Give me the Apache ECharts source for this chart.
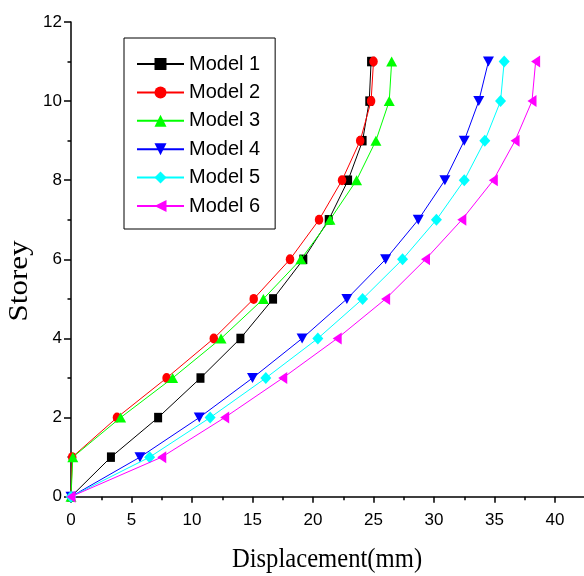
<!DOCTYPE html>
<html><head><meta charset="utf-8">
<script src="https://cdn.jsdelivr.net/npm/echarts@6/dist/echarts.min.js"></script>
<style>html,body{margin:0;padding:0;background:#fff}#c{width:584px;height:576px}</style>
</head><body><div id="c"></div>
<script>
const storeys = [0,1,2,3,4,5,6,7,8,9,10,11];
const names = ['Model 1','Model 2','Model 3','Model 4','Model 5','Model 6'];
const model1 = [0, 3.3, 7.2, 10.7, 14.0, 16.7, 19.2, 21.3, 22.9, 24.1, 24.65, 24.8];
const model2 = [0, 0.1, 3.8, 7.9, 11.8, 15.1, 18.1, 20.5, 22.4, 23.9, 24.8, 25.0];
const model3 = [0, 0.15, 4.1, 8.4, 12.4, 15.9, 19.0, 21.4, 23.6, 25.2, 26.3, 26.5];
const model4 = [0, 5.7, 10.6, 15.0, 19.1, 22.8, 26.0, 28.7, 30.9, 32.5, 33.7, 34.5];
const model5 = [0, 6.5, 11.5, 16.1, 20.4, 24.1, 27.4, 30.2, 32.5, 34.2, 35.5, 35.8];
const model6 = [0, 7.5, 12.7, 17.5, 22.0, 26.0, 29.3, 32.3, 34.9, 36.7, 38.1, 38.4];
const xTicks = [0,5,10,15,20,25,30,35,40];
const yTicks = [0,2,4,6,8,10,12];

const values = [model1, model2, model3, model4, model5, model6];
const colors = ['#000000','#ff0000','#00ff00','#0000ff','#00ffff','#ff00ff'];
const symbols = ['rect','circle','triangle','path://M0,0 L10,0 L5,10 Z','diamond','path://M0,5 L10,0 L10,10 Z'];
const sizes = [[8,9.5],[8.5,10],[11,10],[11,10],[11,12],[9,12]];
const sansFont = '"Liberation Sans", Arial, sans-serif';

const series = values.map((v, i) => ({
  name: names[i],
  type: 'line',
  data: v.map((x, k) => [x, storeys[k]]),
  symbol: symbols[i],
  symbolSize: sizes[i],
  showAllSymbol: true,
  clip: false,
  color: colors[i],
  itemStyle: { color: colors[i] },
  lineStyle: { color: colors[i], width: 1 },
  emphasis: { disabled: true },
  z: 2 + i
}));

const chart = echarts.init(document.getElementById('c'), null, { renderer: 'canvas' });
chart.setOption({
  animation: false,
  backgroundColor: '#ffffff',
  grid: { left: 71, top: 22, height: 474.7, width: 544.5, containLabel: false, outerBoundsMode: 'none' },
  legend: {
    orient: 'vertical',
    left: 124,
    top: 38,
    data: names,
    itemWidth: 47,
    itemHeight: 15,
    itemGap: 8.4,
    padding: [16, 15, 13, 12],
    borderColor: '#000',
    borderWidth: 1,
    backgroundColor: '#fff',
    textStyle: { fontFamily: sansFont, fontSize: 20, color: '#000', lineHeight: 20 }
  },
  xAxis: {
    type: 'value', min: 0, max: 45, interval: 5,
    splitLine: { show: false },
    axisLine: { lineStyle: { color: '#000', width: 1.5 } },
    axisTick: { inside: false, length: 6, lineStyle: { color: '#000', width: 1.5 } },
    minorTick: { show: true, splitNumber: 2, length: 3.5, lineStyle: { color: '#000', width: 1.5 } },
    axisLabel: { margin: 15, fontFamily: sansFont, fontSize: 17, color: '#000',
      formatter: v => xTicks.indexOf(v) >= 0 ? String(v) : '' }
  },
  yAxis: {
    type: 'value', min: 0, max: 12, interval: 2,
    splitLine: { show: false },
    axisLine: { lineStyle: { color: '#000', width: 1.5 } },
    axisTick: { inside: false, length: 7, lineStyle: { color: '#000', width: 1.5 } },
    minorTick: { show: true, splitNumber: 2, length: 3.5, lineStyle: { color: '#000', width: 1.5 } },
    axisLabel: { margin: 9, fontFamily: sansFont, fontSize: 17, color: '#000',
      formatter: v => yTicks.indexOf(v) >= 0 ? String(v) : '' }
  },
  graphic: [
    { type: 'text', x: 327, y: 560, scaleX: 0.88,
      style: { text: 'Displacement(mm)', font: '28px "Liberation Serif", "Times New Roman", serif',
        fill: '#000', textAlign: 'center', textVerticalAlign: 'middle' } },
    { type: 'text', x: 20, y: 281, rotation: Math.PI / 2, scaleY: 0.88,
      style: { text: 'Storey', font: '31px "Liberation Serif", "Times New Roman", serif',
        fill: '#000', textAlign: 'center', textVerticalAlign: 'middle' } }
  ],
  series: series
});
</script></body></html>
